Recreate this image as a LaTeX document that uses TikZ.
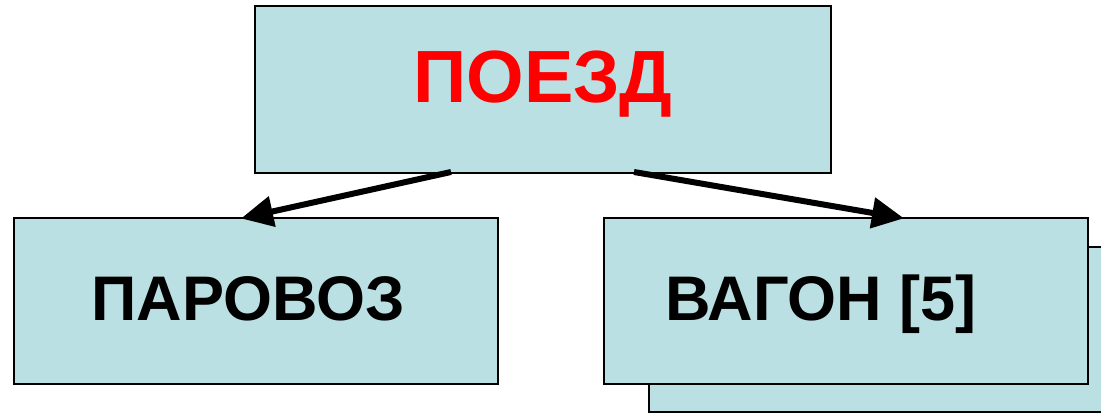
\documentclass[tikz,border=0pt]{standalone}
\usepackage{fontspec}
\setmainfont{Liberation Sans}
\usetikzlibrary{arrows.meta}
\definecolor{boxfill}{RGB}{186,224,227}
\definecolor{titlered}{RGB}{255,0,0}
\tikzset{
  box/.style={draw=black, line width=2.2pt, fill=boxfill},
  lbl/.style={anchor=base, inner sep=0pt, font=\bfseries\fontsize{63}{63}\selectfont},
  conn/.style={line width=6pt, -{Triangle[length=32pt,width=30pt]}, shorten >=-2pt}
}
\begin{document}
\begin{tikzpicture}[x=1pt,y=-1pt]
\useasboundingbox (0,0) rectangle (1101,414);
% back wagon box
\path[box] (649,247) rectangle (1133,412);
% boxes
\node[box, minimum width=576pt, minimum height=167pt, inner sep=0pt, anchor=north west] (top) at (254,5) {};
\node[box, minimum width=484pt, minimum height=166pt, inner sep=0pt, anchor=north west] (left) at (13,217) {};
\node[box, minimum width=484pt, minimum height=166pt, inner sep=0pt, anchor=north west] (right) at (603,217) {};
% labels
\node[lbl, text=titlered, font=\bfseries\fontsize{74}{74}\selectfont] (t1) at (543,103) {ПОЕЗД};
\node[lbl] (t2) at (248,320) {ПАРОВОЗ};
\node[lbl] (t3) at (821,320) {ВАГОН [5]};
% connector end points
\coordinate (s1) at (451,172);
\coordinate (e1) at (243,218);
\coordinate (s2) at (634,172);
\coordinate (e2) at (902,218);
\draw[conn] (s1) -- (e1);
\draw[conn] (s2) -- (e2);
\end{tikzpicture}
\end{document}
